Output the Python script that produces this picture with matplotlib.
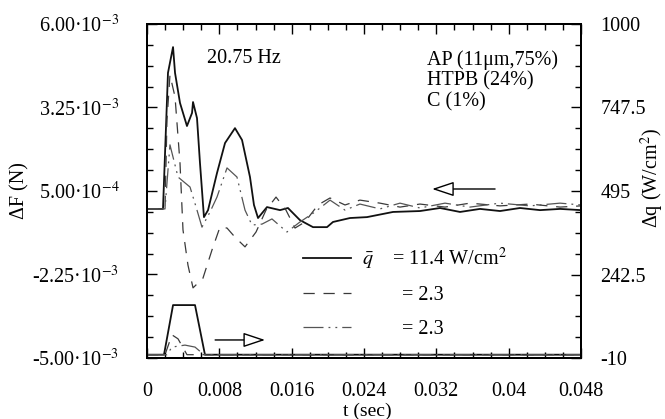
import numpy as np
import matplotlib
matplotlib.use("Agg")
import matplotlib.pyplot as plt
from matplotlib.ticker import AutoMinorLocator

plt.rcParams['font.family'] = ['Liberation Serif', 'DejaVu Serif']
plt.rcParams['mathtext.fontset'] = 'stix'

# force signal dF (N), three runs
t_solid = [0, 0.00177, 0.00232, 0.00288, 0.00310, 0.00365, 0.00442, 0.00498, 0.00509, 0.00553,
           0.00586, 0.00630, 0.00675, 0.00774, 0.00863, 0.00973, 0.01051, 0.01139, 0.01183, 0.01228,
           0.01327, 0.01471, 0.01559, 0.01692, 0.01836, 0.01991, 0.02057, 0.02245, 0.02433, 0.02721,
           0.03019, 0.03241, 0.03462, 0.03683, 0.03904, 0.04125, 0.04347, 0.04568, 0.04800]
F_solid = [-0.09, -0.09, 4.39, 5.24, 4.39, 3.40, 2.64, 3.07, 3.43, 2.90,
           1.42, -0.36, -0.13, 1.09, 2.08, 2.57, 2.18, 0.96, 0.04, -0.39,
           -0.03, -0.13, -0.06, -0.46, -0.69, -0.69, -0.52, -0.39, -0.36, -0.19,
           -0.16, -0.06, -0.19, -0.09, -0.16, -0.06, -0.13, -0.09, -0.13]

t_dash = [0, 0.00199, 0.00221, 0.00254, 0.00310, 0.00365, 0.00398, 0.00453, 0.00509, 0.00619,
          0.00719, 0.00807, 0.00885, 0.00973, 0.01084, 0.01206, 0.01316, 0.01427, 0.01537, 0.01637,
          0.01747, 0.01891, 0.02024, 0.02190, 0.02355, 0.02577, 0.02798, 0.03019, 0.03296, 0.03572,
          0.03904, 0.04236, 0.04568, 0.04800]
F_dash = [-0.09, -0.09, 2.84, 4.32, 3.60, 1.42, -0.78, -1.94, -2.69, -2.37,
          -1.44, -0.69, -0.72, -1.02, -1.34, -0.85, -0.13, 0.30, -0.13, -0.72,
          -0.52, 0.04, 0.27, 0.04, 0.20, 0.10, -0.03, 0.07, -0.03, 0.10,
          0.01, 0.07, -0.03, 0.01]

t_dd = [0, 0.00199, 0.00232, 0.00254, 0.00343, 0.00476, 0.00553, 0.00608, 0.00697, 0.00774,
        0.00885, 0.00995, 0.01084, 0.01161, 0.01272, 0.01382, 0.01548, 0.01692, 0.01858, 0.02024,
        0.02190, 0.02355, 0.02577, 0.02798, 0.03019, 0.03296, 0.03572, 0.03904, 0.04236, 0.04568,
        0.04800]
F_dd = [-0.09, -0.09, 1.19, 2.02, 0.96, 0.63, -0.13, -0.69, -0.19, 0.30,
        1.26, 0.96, -0.13, -0.62, -0.59, -0.42, -0.85, -0.52, -0.19, 0.20,
        -0.13, 0.07, -0.09, 0.10, -0.06, 0.10, -0.03, 0.10, 0.01, 0.10,
        0.04]

# heat flux pulses dq (W/cm2), right axis
tq_solid = [0, 0.00188, 0.00288, 0.00531, 0.00641, 0.048]
q_solid = [0, 0, 150, 150, 0, 0]
tq_dash = [0, 0.00199, 0.00276, 0.00343, 0.00442, 0.048]
q_dash = [0, 0, 60, 48, 0, 0]
tq_dd = [0, 0.00221, 0.00276, 0.00420, 0.00531, 0.00608, 0.00641, 0.048]
q_dd = [0, 0, 23, 29, 23, 5, 0, 0]

xticks = [0, 0.008, 0.016, 0.024, 0.032, 0.04, 0.048]
xticklabels = ['0', '0.008', '0.016', '0.024', '0.032', '0.04', '0.048']
yticks = [-5e-3, -2.25e-3, 5e-4, 3.25e-3, 6e-3]
yticklabels = ['-5.00·10$^{-3}$', '-2.25·10$^{-3}$', '5.00·10$^{-4}$', '3.25·10$^{-3}$', '6.00·10$^{-3}$']
y2ticks = [-10, 242.5, 495, 747.5, 1000]
y2ticklabels = ['-10', '242.5', '495', '747.5', '1000']
legend_labels = [r'$\bar{q}$    = 11.4 W/cm$^2$', '        = 2.3', '        = 2.3']

W, H = 665, 419
def px(x, y):
    return x / W, 1 - y / H

fs = 14.5
fig = plt.figure(figsize=(6.65, 4.19), dpi=100)
ax = fig.add_axes([147 / W, 1 - 358 / H, 434 / W, 334 / H])
ax2 = ax.twinx()

dash_style = (0, (9, 7))
dd_style = (0, (16, 4, 1.5, 4, 1.5, 4))

l1, = ax.plot(t_solid, np.array(F_solid) * 1e-3, color='#111111', lw=1.3)
l2, = ax.plot(t_dash, np.array(F_dash) * 1e-3, color='#3a3a3a', lw=0.9, ls=dash_style)
l3, = ax.plot(t_dd, np.array(F_dd) * 1e-3, color='#555555', lw=0.9, ls=dd_style)

ax2.plot(tq_solid, q_solid, color='#111111', lw=1.3)
ax2.plot(tq_dash, q_dash, color='#3a3a3a', lw=0.9, ls=dash_style)
ax2.plot(tq_dd, q_dd, color='#555555', lw=0.9, ls=dd_style)

ax.set_xlim(0, 0.048)
ax.set_ylim(-5e-3, 6e-3)
ax2.set_ylim(-10, 1000)

ax.set_xticks(xticks)
ax.set_xticklabels(xticklabels, fontsize=fs)
ax.set_yticks(yticks)
ax.set_yticklabels(yticklabels, fontsize=fs)
ax2.set_yticks(y2ticks)
ax2.set_yticklabels(y2ticklabels, fontsize=fs)

ax.xaxis.set_minor_locator(AutoMinorLocator(4))
ax.yaxis.set_minor_locator(AutoMinorLocator(4))
ax2.yaxis.set_minor_locator(AutoMinorLocator(4))

ax.tick_params(which='both', direction='in', top=True, right=False, width=1)
ax.tick_params(which='major', length=7)
ax.tick_params(which='minor', length=4)
ax.tick_params(axis='x', which='major', pad=17)
ax.tick_params(axis='y', which='major', pad=20)
ax2.tick_params(which='both', direction='in', width=1)
ax2.tick_params(which='major', length=7, pad=14)
ax2.tick_params(which='minor', length=4)

for a in (ax, ax2):
    for s in a.spines.values():
        s.set_linewidth(1.4)

ax.legend([l1, l2, l3], legend_labels, loc='upper left', bbox_to_anchor=(0.359, 0.335),
          frameon=False, borderpad=0, borderaxespad=0, handlelength=2.4,
          handletextpad=0.55, labelspacing=0.7, fontsize=fs)

ax.text(0.138, 0.898, '20.75 Hz', transform=ax.transAxes, fontsize=fs, va='center')
ax.text(0.645, 0.892, 'AP (11μm,75%)', transform=ax.transAxes, fontsize=fs, va='center')
ax.text(0.645, 0.829, 'HTPB (24%)', transform=ax.transAxes, fontsize=fs, va='center')
ax.text(0.645, 0.766, 'C (1%)', transform=ax.transAxes, fontsize=fs, va='center')

arrow = dict(arrowstyle='-|>,head_length=0.9,head_width=0.3', fc='white', ec='black', lw=1.0,
             shrinkA=0, shrinkB=0, mutation_scale=15)
ax.annotate('', xy=(0.657, 0.506), xytext=(0.802, 0.506), xycoords='axes fraction', arrowprops=arrow)
ax.annotate('', xy=(0.272, 0.054), xytext=(0.157, 0.054), xycoords='axes fraction', arrowprops=arrow)

fig.text(*px(20, 191), 'ΔF (N)', rotation=90, ha='center', va='center', fontsize=fs)
fig.text(*px(652, 178), 'Δq (W/cm$^2$)', rotation=90, ha='center', va='center', fontsize=fs)
fig.text(*px(367, 411), 't (sec)', ha='center', va='center', fontsize=14)

fig.savefig('out.png', dpi=100)
